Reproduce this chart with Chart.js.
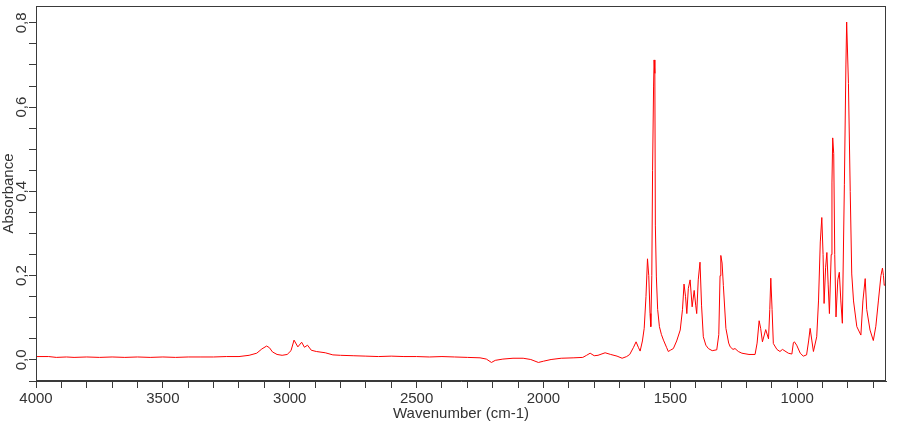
<!DOCTYPE html>
<html>
<head>
<meta charset="utf-8">
<script src="https://cdn.jsdelivr.net/npm/chart.js@4/dist/chart.umd.min.js"></script>
<style>
html,body{margin:0;padding:0;background:#fff;}
#wrap{width:910px;height:425px;}
</style>
</head>
<body>
<div id="wrap"><canvas id="c" width="910" height="425"></canvas></div>
<script>
const wavenumbers = [4000,3950,3920,3880,3850,3800,3750,3700,3650,3600,3550,3500,3450,3400,3350,3300,3250,3200,3160,3130,3110,3091,3080,3068,3050,3030,3010,2995,2983,2968,2953,2942,2930,2915,2895,2860,2830,2800,2750,2700,2650,2600,2550,2500,2450,2400,2350,2300,2250,2225,2205,2190,2160,2120,2080,2050,2020,2000,1970,1930,1880,1845,1830,1816,1800,1785,1757,1735,1710,1690,1672,1660,1645,1635,1626,1619,1610,1603,1596,1590,1585,1580,1577,1573,1570,1566,1564,1561,1559,1555,1550,1543,1535,1527,1515,1508,1500,1488,1475,1461,1452,1446,1440,1435,1429,1422,1414,1406,1400,1396,1390,1383,1377,1370,1360,1350,1335,1317,1309,1304,1301,1296,1291,1281,1270,1264,1253,1245,1232,1218,1190,1166,1158,1150,1144,1137,1124,1113,1108,1104,1099,1094,1080,1068,1058,1035,1021,1015,1011,1002,988,976,963,955,949,942,936,923,916,909,903,898,894,888,883,878,873,866,863,860,856,852,847,840,834,828,822,814,808,805,798,791,785,778,765,749,741,732,726,713,700,690,680,670,664,660,657,651];
const absorbance = [0.008,0.008,0.006,0.007,0.006,0.007,0.006,0.007,0.006,0.007,0.006,0.007,0.006,0.007,0.007,0.007,0.008,0.008,0.011,0.016,0.026,0.033,0.029,0.019,0.013,0.011,0.013,0.022,0.047,0.031,0.042,0.030,0.035,0.023,0.020,0.017,0.012,0.011,0.010,0.009,0.008,0.009,0.008,0.008,0.007,0.008,0.007,0.006,0.005,0.002,-0.006,-0.001,0.002,0.004,0.004,0.001,-0.006,-0.003,0.001,0.004,0.005,0.006,0.011,0.016,0.010,0.011,0.017,0.013,0.009,0.004,0.008,0.013,0.030,0.043,0.030,0.021,0.045,0.075,0.150,0.240,0.200,0.110,0.079,0.200,0.450,0.650,0.712,0.680,0.320,0.197,0.120,0.079,0.060,0.047,0.030,0.020,0.023,0.027,0.045,0.071,0.120,0.180,0.150,0.110,0.170,0.190,0.126,0.165,0.130,0.110,0.190,0.232,0.130,0.055,0.035,0.027,0.022,0.024,0.060,0.200,0.248,0.230,0.177,0.075,0.040,0.031,0.025,0.027,0.020,0.016,0.013,0.013,0.040,0.093,0.075,0.043,0.072,0.050,0.120,0.194,0.120,0.039,0.025,0.020,0.025,0.016,0.014,0.041,0.043,0.035,0.016,0.009,0.012,0.045,0.075,0.045,0.020,0.055,0.140,0.280,0.338,0.250,0.134,0.220,0.255,0.180,0.110,0.250,0.420,0.527,0.490,0.250,0.102,0.190,0.208,0.140,0.087,0.417,0.700,0.802,0.656,0.400,0.204,0.140,0.079,0.059,0.140,0.193,0.120,0.071,0.046,0.080,0.140,0.200,0.218,0.200,0.177,0.180];

const xMin = 650, xMax = 4000, xStep = 100, xLabelStep = 500;
const yMin = -0.05, yMax = 0.84, yStep = 0.05, yLabelStep = 0.2;
const xTitle = 'Wavenumber (cm-1)';
const yTitle = 'Absorbance';

const points = wavenumbers.map((w, i) => ({x: w, y: absorbance[i]}));
const isMult = (v, s) => Math.abs(Math.round(v / s) * s - v) < 1e-6;

const frame = {
  id: 'frame',
  afterDraw(chart) {
    const a = chart.chartArea, ctx = chart.ctx;
    ctx.save();
    ctx.strokeStyle = '#3a3a3a';
    ctx.lineWidth = 1;
    ctx.strokeRect(Math.round(a.left) + 0.5, Math.round(a.top) + 0.5, Math.round(a.right - a.left) - 1, Math.round(a.bottom - a.top) - 1);
    ctx.restore();
  }
};

const font = {family: '"Liberation Sans", Arial, sans-serif', size: 15};

new Chart(document.getElementById('c'), {
  type: 'scatter',
  data: {datasets: [{data: points, showLine: true, borderColor: '#ff0000', borderWidth: 1, pointRadius: 0, tension: 0, fill: false}]},
  options: {
    responsive: false, animation: false, devicePixelRatio: 1,
    layout: {padding: {top: 4, right: 24, left: 0, bottom: 0}},
    plugins: {legend: {display: false}, tooltip: {enabled: false}},
    scales: {
      x: {
        type: 'linear', reverse: true, min: xMin, max: xMax,
        afterFit(s) { s.height = 44; },
        afterBuildTicks(s) { s.ticks = s.ticks.filter(t => isMult(t.value, xStep) && t.value >= xMin && t.value <= xMax); },
        grid: {drawOnChartArea: false, drawTicks: true, tickLength: 7, color: '#3a3a3a'},
        border: {display: true, color: '#3a3a3a'},
        ticks: {stepSize: xStep, includeBounds: false, maxRotation: 0, minRotation: 0, autoSkip: false, padding: 2, color: '#333', font,
          callback: v => isMult(v, xLabelStep) ? String(v) : ''},
        title: {display: true, text: xTitle, color: '#333', font, padding: {top: 0, bottom: 2}}
      },
      y: {
        type: 'linear', min: yMin, max: yMax,
        afterFit(s) { s.width = 36; },
        afterBuildTicks(s) { s.ticks = s.ticks.filter(t => isMult(t.value, yStep) && t.value >= yMin - 1e-9 && t.value <= yMax); },
        grid: {drawOnChartArea: false, drawTicks: true, tickLength: 7, color: '#3a3a3a'},
        border: {display: true, color: '#3a3a3a'},
        ticks: {stepSize: yStep, includeBounds: false, minRotation: 90, maxRotation: 90, crossAlign: 'center', padding: -3, autoSkip: false, color: '#333', font,
          callback: v => isMult(v, yLabelStep) ? v.toFixed(1).replace('.', ',').replace('-0,0', '0,0') : ''},
        title: {display: true, text: yTitle, color: '#333', font, padding: {top: 0, bottom: 0}}
      }
    }
  },
  plugins: [frame]
});
</script>
</body>
</html>
